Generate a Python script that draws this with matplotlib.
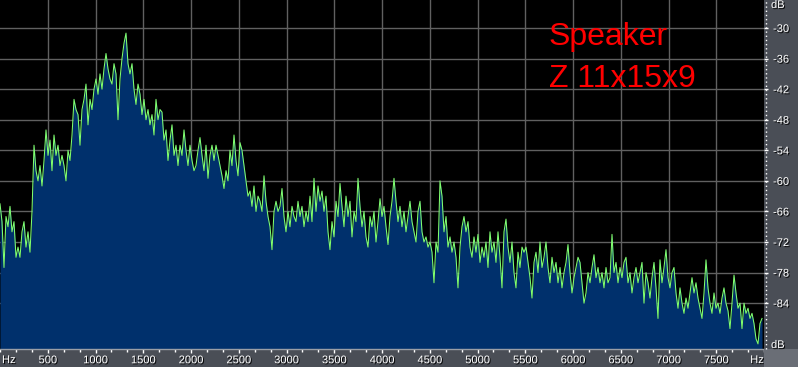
import numpy as np
import matplotlib
matplotlib.use("Agg")
import matplotlib.pyplot as plt
import matplotlib.patheffects as pe
from matplotlib.lines import Line2D
from matplotlib.patches import Rectangle

# ---- data (spectrum level in dB, one value per ~21 Hz bin) ----
levels_a = [-64.5, -68, -77, -67, -69, -65, -70, -68, -75, -73,
            -75, -70, -68, -73, -70, -74, -66, -53, -58, -60,
            -57, -61, -56, -50, -55, -52, -58, -51, -55, -53,
            -57, -55, -57, -60, -54, -56, -51, -44, -46, -47,
            -53, -46, -44, -41, -49, -44, -46, -42, -40, -43,
            -39, -42, -38, -35, -38, -40, -41, -37, -39, -48,
            -40, -36, -33, -31, -37, -39, -37, -42, -45, -41,
            -43, -47, -44, -48, -46, -49, -47, -51, -44, -48,
            -46]
levels_b = [-46.5, -52, -50, -56, -52, -49, -55, -53, -57, -53,
            -55, -50, -54, -57, -53, -56, -58, -57, -54, -51.5,
            -55, -58, -53, -59.5, -55, -53, -56, -53, -55, -57,
            -59, -61.5, -58, -60, -54, -57, -51, -56, -59, -52.5,
            -54, -57, -60, -63, -62, -65, -61, -66, -63, -64,
            -66, -59, -64, -67, -69, -73.5, -66, -64, -66, -65,
            -61.5, -67, -70, -66, -69, -65, -67, -68, -64, -67,
            -65, -69, -66, -68, -63, -68]
levels_c = [-59.5, -66, -61, -64, -62, -66, -63, -70, -73.5, -68,
            -71, -64, -67, -60.5, -65, -69, -63, -67, -64, -71,
            -66, -68, -59.5, -65, -69, -66, -71, -73, -67, -69,
            -66, -72, -68, -63.5, -67, -65, -69, -72.5, -67, -64,
            -59.5, -64, -68, -65, -69, -66, -70, -67, -64, -68,
            -70, -72, -66, -64, -70, -72, -71, -73, -72, -74,
            -80, -72, -74, -60, -63, -70, -67, -73, -71, -74,
            -72, -75, -81, -73, -69, -67, -70, -68, -73]
levels_d = [-75, -71, -74, -70.5, -76, -73, -75, -72, -77, -70,
            -74, -72, -76, -70, -75, -81, -70, -67.5, -73, -76,
            -72, -78, -81, -74, -77, -73, -74, -73, -76, -79,
            -83, -76, -74, -78, -72, -77, -75, -72, -77, -80,
            -75, -78, -76, -80, -77, -81, -78, -76, -72.5, -78,
            -82, -79, -77, -75, -76, -80, -84, -82, -78, -80,
            -77, -74.5, -79, -77, -80, -78, -81, -77, -80, -79,
            -70.5, -78, -76, -80, -77, -79, -76]
levels_e = [-75, -80, -78, -82, -79, -77, -80, -78, -76, -84,
            -78, -80, -83, -79, -76, -81, -87, -75.5, -80, -77,
            -73.5, -79, -81, -78, -77, -82, -85, -81, -84, -86,
            -83, -85, -82, -79, -82, -80, -83, -85, -87, -82,
            -75.5, -81, -84, -86, -82, -85, -84, -86, -83, -81,
            -84, -85.5, -89, -84, -78.5, -82, -85, -84, -89, -84,
            -86, -85, -87, -86, -88, -91, -92, -88, -87]
levels = np.array(levels_a + levels_b + levels_c + levels_d + levels_e)
bin_hz = 8000.0 / 382
freqs = np.arange(len(levels)) * bin_hz

x_ticks = [500, 1000, 1500, 2000, 2500, 3000, 3500, 4000, 4500, 5000, 5500, 6000, 6500, 7000, 7500]
x_labels = [str(v) for v in x_ticks]
y_ticks = [-30, -36, -42, -48, -54, -60, -66, -72, -78, -84]
y_labels = [str(v) for v in y_ticks]
title_lines = ["Speaker", "Z 11x15x9"]

# ---- figure ----
W, H = 798, 367
fig = plt.figure(figsize=(W / 100, H / 100), dpi=100, facecolor="#4a4e56")
ax = fig.add_axes([0, 18 / H, 764 / W, 349 / H])
ax.set_facecolor("black")

ax.fill_between(freqs, levels, -100, color="#00306c", lw=0, zorder=2)
ax.plot(freqs, levels, color="#80ff70", lw=0.75, zorder=3)

ax.set_xlim(0, 8000)
ax.set_ylim(-93.0, -24.5)

ax.set_xticks(x_ticks)
ax.set_xticklabels(x_labels)
ax.set_xticks(np.arange(0, 8001, 500 / 3), minor=True)
ax.yaxis.tick_right()
ax.set_yticks(y_ticks)
ax.set_yticklabels(y_labels)

ax.grid(True, which="major", color="#606060", lw=1.0, zorder=1)
ax.set_axisbelow(True)

for s in ["top", "left", "right"]:
    ax.spines[s].set_visible(False)
ax.spines["bottom"].set_color("#9a9ea6")
ax.spines["bottom"].set_linewidth(1.0)

ax.tick_params(axis="x", which="major", direction="out", length=3, width=1,
               color="white", labelcolor="white", labelsize=8, pad=1.5)
ax.tick_params(axis="x", which="minor", direction="out", length=2, width=1,
               color="white")
ax.tick_params(axis="y", which="major", direction="out", length=3, width=1,
               color="white", labelcolor="white", labelsize=8, pad=3.5)

shadow = [pe.SimplePatchShadow(offset=(0.8, -0.8), shadow_rgbFace="black", alpha=0.9),
          pe.Normal()]
for lab in ax.get_xticklabels() + ax.get_yticklabels():
    lab.set_fontfamily("Liberation Sans")
    lab.set_path_effects(shadow)

lab_kw = dict(color="white", fontsize=8, family="Liberation Sans", path_effects=shadow)
# end labels
ax.text(2 / 764, -11 / 349, "Hz", transform=ax.transAxes, ha="left", va="center", **lab_kw)
ax.text(757 / 764, -11 / 349, "Hz", transform=ax.transAxes, ha="center", va="center", **lab_kw)
fig.text(771 / W, 1 - 5 / H, "dB", ha="left", va="center", **lab_kw)
fig.text(771 / W, 1 - 345 / H, "dB", ha="left", va="center", **lab_kw)

# dotted vertical rule on the right panel
fig.add_artist(Line2D([766 / W, 766 / W], [1 - 349 / H, 1], color="white",
                      lw=1, linestyle=(0, (1, 2))))
# lighter corner block
fig.add_artist(Rectangle((764 / W, 0), 34 / W, 18 / H, transform=fig.transFigure,
                         color="#6a6e76", lw=0))

# title text
ax.text(549 / 764, 1 - 45 / 349, title_lines[0], transform=ax.transAxes,
        color="#ff0000", fontsize=23, family="Liberation Sans", ha="left",
        va="baseline", zorder=5)
ax.text(549 / 764, 1 - 87 / 349, title_lines[1], transform=ax.transAxes,
        color="#ff0000", fontsize=23, family="Liberation Sans", ha="left",
        va="baseline", zorder=5)

fig.savefig("out.png", dpi=100, facecolor=fig.get_facecolor())
